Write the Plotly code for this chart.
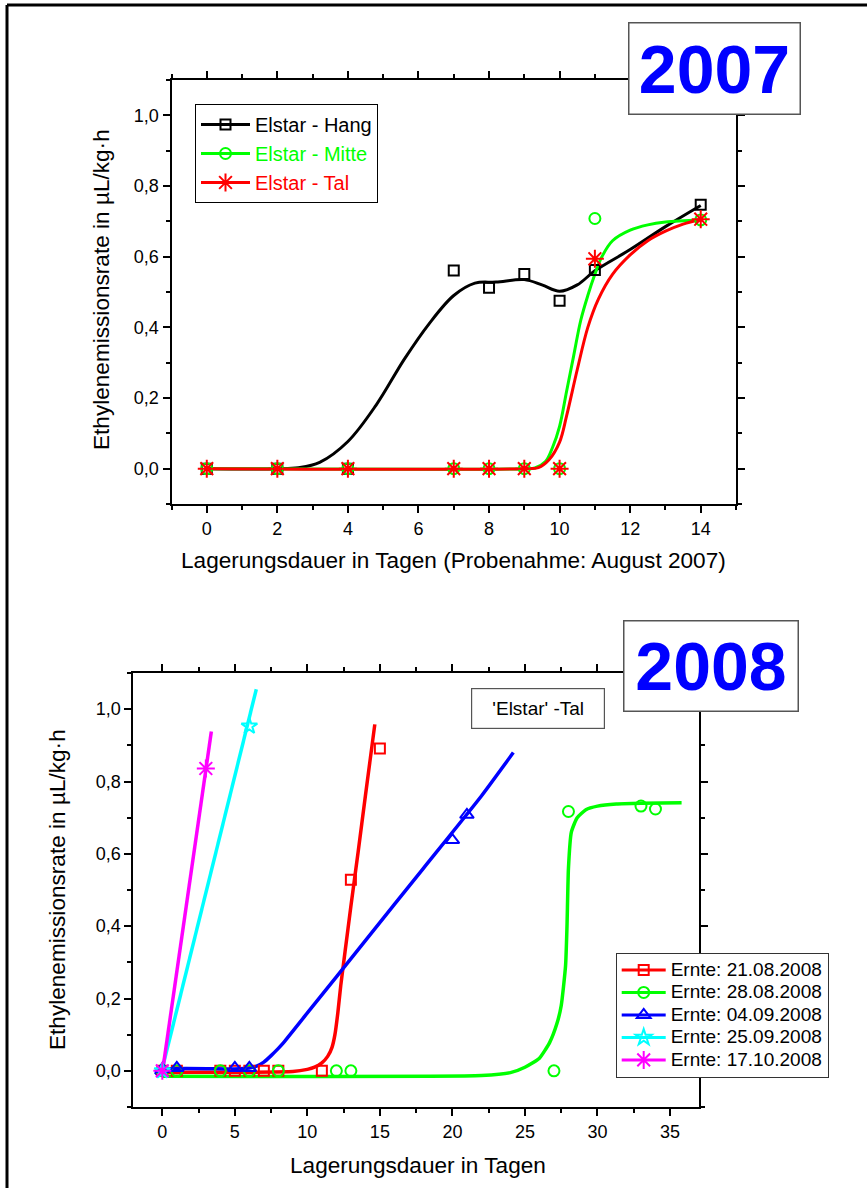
import plotly.graph_objects as go

W, H = 867, 1188
FONT = "Liberation Sans, Arial, sans-serif"

# ---------------- 2007 data ----------------
days07 = [0, 2, 4, 7, 8, 9, 10, 11, 14]
hang07 = [0, 0, 0, 0.561, 0.512, 0.551, 0.475, 0.562, 0.747]
mitte07 = [0, 0, 0, 0, 0, 0, 0, 0.708, 0.704]
tal07 = [0, 0, 0, 0, 0, 0, 0, 0.594, 0.706]

# fitted curves 2007
hang07_fit_x = [0, 2, 2.6, 3.2, 4, 4.8, 5.6, 6.3, 7, 7.6, 8.2, 9, 9.5, 10, 10.5, 11, 12, 13, 14]
hang07_fit_y = [0, 0, 0.003, 0.018, 0.077, 0.18, 0.31, 0.41, 0.49, 0.525, 0.528, 0.535, 0.52, 0.502, 0.52, 0.56, 0.62, 0.685, 0.745]
mitte07_fit_x = [0, 9, 9.3, 9.6, 9.8, 10, 10.2, 10.4, 10.6, 10.8, 11, 11.2, 11.5, 12, 12.5, 13, 14]
mitte07_fit_y = [0, 0, 0.002, 0.02, 0.06, 0.12, 0.22, 0.32, 0.42, 0.49, 0.55, 0.6, 0.645, 0.675, 0.69, 0.698, 0.704]
tal07_fit_x = [0, 9, 9.4, 9.7, 10, 10.2, 10.5, 10.8, 11.1, 11.5, 12, 12.5, 13, 13.5, 14]
tal07_fit_y = [0, 0, 0.003, 0.025, 0.075, 0.15, 0.28, 0.4, 0.48, 0.55, 0.605, 0.645, 0.672, 0.692, 0.706]

# ---------------- 2008 data ----------------
red08_x = [0, 1, 4, 5, 6, 7, 8, 11, 13, 15]
red08_y = [0, 0, 0, 0, 0, 0, 0, 0, 0.528, 0.891]
green08_x = [0, 1, 4, 6, 8, 12, 13, 27, 28, 33, 34]
green08_y = [0, 0, 0, 0, 0, 0, 0, 0, 0.717, 0.732, 0.724]
blue08_x = [0, 1, 5, 6, 20, 21]
blue08_y = [0.005, 0.008, 0.008, 0.008, 0.638, 0.708]
cyan08_x = [0, 6]
cyan08_y = [0, 0.953]
mag08_x = [0, 3]
mag08_y = [0, 0.836]

red08_fit_x = [-0.3, 5, 9, 10, 10.5, 11, 11.4, 11.7, 11.9, 12.1, 12.3, 12.6, 13, 13.5, 14, 14.65]
red08_fit_y = [-0.004, -0.004, -0.002, 0.004, 0.01, 0.022, 0.04, 0.065, 0.1, 0.16, 0.235, 0.33, 0.455, 0.605, 0.76, 0.958]
green08_fit_x = [0, 22, 24, 25, 26, 26.7, 27.2, 27.5, 27.8, 27.9, 28.0, 28.2, 28.6, 29.2, 30, 31.3, 33, 35.8]
green08_fit_y = [-0.015, -0.013, -0.005, 0.01, 0.035, 0.078, 0.13, 0.18, 0.29, 0.4, 0.56, 0.66, 0.7, 0.722, 0.732, 0.738, 0.74, 0.741]
blue08_fit_x = [-0.5, 0, 5, 6, 6.5, 7, 7.5, 8, 8.3, 10, 14, 18, 22, 24.2]
blue08_fit_y = [-0.01, 0.004, 0.005, 0.008, 0.013, 0.024, 0.042, 0.062, 0.075, 0.16, 0.36, 0.56, 0.76, 0.88]
cyan08_fit_x = [-0.1, 6.48]
cyan08_fit_y = [-0.01, 1.055]
mag08_fit_x = [0, 3.38]
mag08_fit_y = [-0.005, 0.938]

names07 = ["Elstar - Hang", "Elstar - Mitte", "Elstar - Tal"]
names08 = ["Ernte: 21.08.2008", "Ernte: 28.08.2008", "Ernte: 04.09.2008",
           "Ernte: 25.09.2008", "Ernte: 17.10.2008"]

BLACK, GREEN, RED = "#000000", "#00ff00", "#ff0000"
BLUE, CYAN, MAG = "#0000ff", "#00ffff", "#ff00ff"

fig = go.Figure()

# ---- 2007 ----
series07 = [
    (hang07_fit_x, hang07_fit_y, days07, hang07, BLACK, "square-open", 10, names07[0]),
    (mitte07_fit_x, mitte07_fit_y, days07, mitte07, GREEN, "circle-open", 11, names07[1]),
    (tal07_fit_x, tal07_fit_y, days07, tal07, RED, "asterisk-open", 15, names07[2]),
]
for fx, fy, px, py, col, sym, sz, nm in series07:
    fig.add_trace(go.Scatter(x=fx, y=fy, mode="lines", line=dict(color=col, width=3, shape="spline", smoothing=1.0),
                             showlegend=False, xaxis="x", yaxis="y", hoverinfo="skip"))
for fx, fy, px, py, col, sym, sz, nm in series07:
    fig.add_trace(go.Scatter(x=px, y=py, mode="markers",
                             marker=dict(symbol=sym, size=sz, color=col, line=dict(color=col, width=2)),
                             showlegend=False, xaxis="x", yaxis="y"))
for fx, fy, px, py, col, sym, sz, nm in series07:
    fig.add_trace(go.Scatter(x=[None], y=[None], mode="lines+markers",
                             name=f'<span style="color:{col}">{nm}</span>',
                             line=dict(color=col, width=3),
                             marker=dict(symbol=sym, size=sz, color=col, line=dict(color=col, width=2)),
                             xaxis="x", yaxis="y", legend="legend"))

# ---- 2008 ----
series08 = [
    (red08_fit_x, red08_fit_y, red08_x, red08_y, RED, "square-open", 10, names08[0]),
    (green08_fit_x, green08_fit_y, green08_x, green08_y, GREEN, "circle-open", 11, names08[1]),
    (blue08_fit_x, blue08_fit_y, blue08_x, blue08_y, BLUE, "triangle-up-open", 12, names08[2]),
    (cyan08_fit_x, cyan08_fit_y, cyan08_x, cyan08_y, CYAN, "star-open", 12, names08[3]),
    (mag08_fit_x, mag08_fit_y, mag08_x, mag08_y, MAG, "asterisk-open", 15, names08[4]),
]
for fx, fy, px, py, col, sym, sz, nm in series08:
    fig.add_trace(go.Scatter(x=fx, y=fy, mode="lines", line=dict(color=col, width=3.5, shape="spline", smoothing=0.5),
                             showlegend=False, xaxis="x2", yaxis="y2", hoverinfo="skip"))
for fx, fy, px, py, col, sym, sz, nm in series08:
    fig.add_trace(go.Scatter(x=px, y=py, mode="markers",
                             marker=dict(symbol=sym, size=sz, color=col, line=dict(color=col, width=2)),
                             showlegend=False, xaxis="x2", yaxis="y2"))
for fx, fy, px, py, col, sym, sz, nm in series08:
    fig.add_trace(go.Scatter(x=[None], y=[None], mode="lines+markers",
                             name=f'<span style="font-size:19px">{nm}</span>',
                             line=dict(color=col, width=3),
                             marker=dict(symbol=sym, size=sz, color=col, line=dict(color=col, width=2)),
                             xaxis="x2", yaxis="y2", legend="legend2"))


def axis(rng, dtick, minor_dtick, fmt, domain, anchor):
    return dict(range=rng, domain=domain, anchor=anchor, tick0=0, dtick=dtick, tickformat=fmt,
                showline=True, linecolor="black", linewidth=2, mirror="ticks",
                ticks="outside", ticklen=7, tickwidth=1.5, tickcolor="black",
                showgrid=False, zeroline=False,
                tickfont=dict(family=FONT, size=18, color="black"),
                minor=dict(ticks="outside", ticklen=4, tickwidth=1.5, tickcolor="black",
                           dtick=minor_dtick, tick0=0, showgrid=False))


def px_x(p):
    return p / W


def px_y(p):
    return 1 - p / H


def label(text, x, y, size, **kw):
    d = dict(text=text, x=px_x(x), y=px_y(y), xref="paper", yref="paper", showarrow=False,
             xanchor="center", yanchor="middle", font=dict(family=FONT, size=size, color=kw.pop("color", "black")))
    d.update(kw)
    return d


ann = [
    label("Lagerungsdauer in Tagen (Probenahme: August 2007)", 453.5, 560, 22.6),
    label("Ethylenemissionsrate in µL/kg·h", 101, 290, 22.6, textangle=-90),
    label("Lagerungsdauer in Tagen", 418, 1165, 22.6),
    label("Ethylenemissionsrate in µL/kg·h", 57, 890, 22.6, textangle=-90),
    label("<b>2007</b>", 714, 69, 68, color=BLUE, width=166, height=86, bgcolor="white",
          bordercolor="#555555", borderwidth=1.5, borderpad=2),
    label("<b>2008</b>", 710.5, 665.5, 68, color=BLUE, width=169, height=85, bgcolor="white",
          bordercolor="#555555", borderwidth=1.5, borderpad=2),
    label("'Elstar' -Tal", 538, 708.5, 19, width=128, height=35, bgcolor="white",
          bordercolor="#555555", borderwidth=1.2, borderpad=2),
]

shapes = [
    dict(type="line", xref="paper", yref="paper", x0=px_x(7), x1=1, y0=px_y(5), y1=px_y(5),
         line=dict(color="black", width=3)),
    dict(type="line", xref="paper", yref="paper", x0=px_x(7), x1=px_x(7), y0=px_y(5), y1=0,
         line=dict(color="black", width=3)),
]

fig.update_layout(
    width=W, height=H, margin=dict(l=0, r=0, t=0, b=0),
    paper_bgcolor="white", plot_bgcolor="white",
    separators=",.",
    font=dict(family=FONT, color="black"),
    xaxis=axis([-1, 15], 2, 1, "d", [px_x(171.5), px_x(736)], "y"),
    yaxis=axis([-0.1, 1.1], 0.2, 0.1, ".1f", [px_y(504), px_y(80)], "x"),
    xaxis2=axis([-2, 37], 5, 2.5, "d", [px_x(133.3), px_x(699)], "y2"),
    yaxis2=axis([-0.1, 1.1], 0.2, 0.1, ".1f", [px_y(1107), px_y(673)], "x2"),
    legend=dict(x=px_x(195), y=px_y(104), xanchor="left", yanchor="top",
                bgcolor="white", bordercolor="black", borderwidth=1,
                font=dict(family=FONT, size=20, color="black"), itemwidth=49, tracegroupgap=0),
    legend2=dict(x=px_x(615.7), y=px_y(952.7), xanchor="left", yanchor="top",
                 bgcolor="white", bordercolor="#333333", borderwidth=1,
                 font=dict(family=FONT, size=15, color="black"), itemwidth=44, tracegroupgap=0),
    annotations=ann,
    shapes=shapes,
)

fig.write_html("out.html", config={"displayModeBar": False},
               post_script="document.body.style.margin='0';document.body.style.overflow='hidden';")
